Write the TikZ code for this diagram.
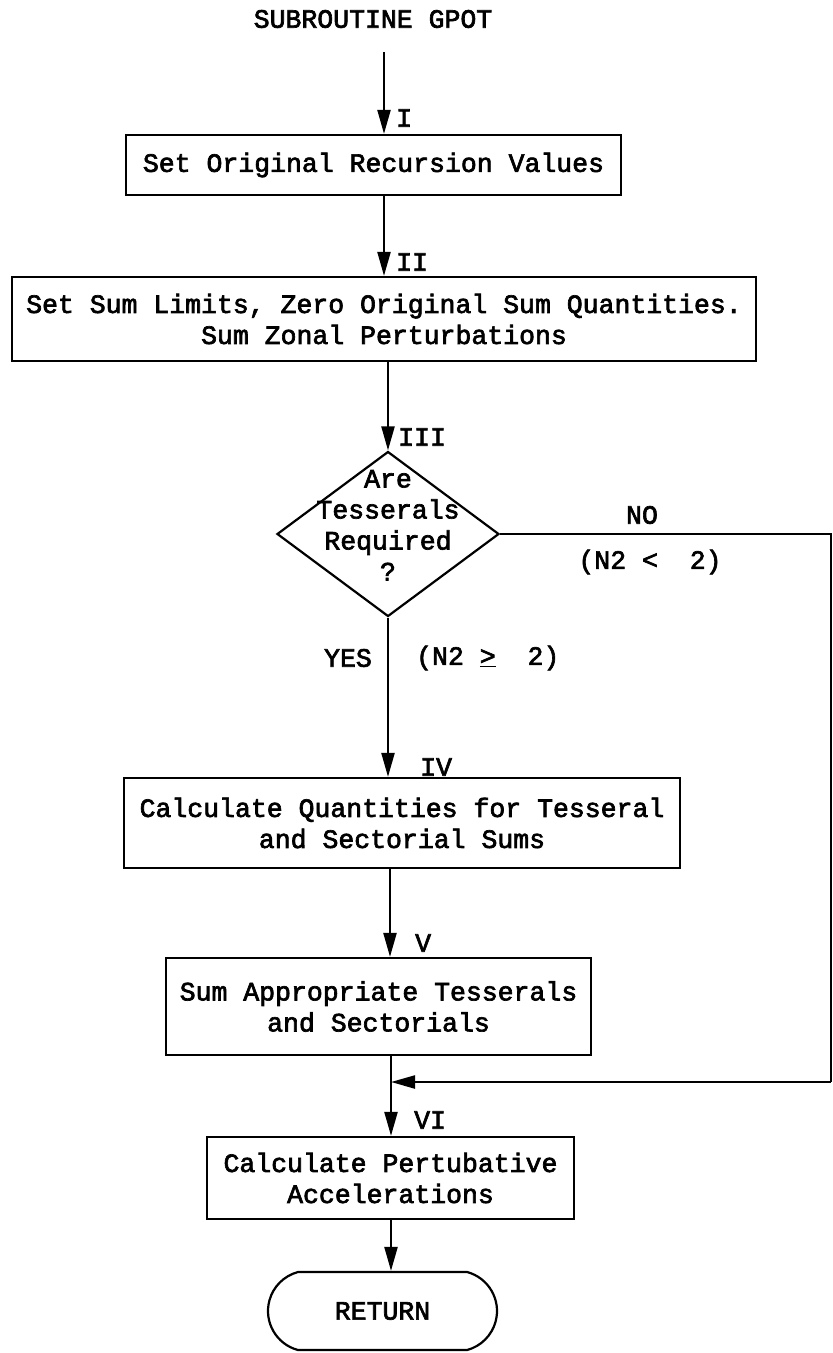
\documentclass[tikz,border=0pt]{standalone}
\usepackage{fontspec}
\newfontfamily\typer{Liberation Mono}[FakeBold=2.5]
\usetikzlibrary{arrows.meta,shapes.geometric,shapes.misc}
\tikzset{
  flow/.style={line width=2.2pt},
  arr/.style={flow, -{Triangle[length=24pt,width=13pt]}},
  txt/.style={font=\typer\fontsize{26.5}{31}\selectfont, inner sep=0pt},
  procbox/.style={txt, draw, line width=2.2pt, rectangle, align=center},
  tag/.style={txt, anchor=west},
}
\begin{document}
\begin{tikzpicture}[x=1pt,y=-1pt]
\useasboundingbox (0,0) rectangle (833,1353);

% flow columns
\coordinate (c1) at (384,0);
\coordinate (c3) at (390,0);
\coordinate (c4) at (391,0);
\coordinate (start) at (384,52);

% title
\node[txt] (title) at (373,19) {SUBROUTINE GPOT};

% blocks
\node[procbox, minimum width=495pt, minimum height=60pt] (b1) at (373.5,165)
  {Set Original Recursion Values};
\node[procbox, minimum width=744pt, minimum height=84pt] (b2) at (384,319)
  {Set Sum Limits, Zero Original Sum Quantities.\\Sum Zonal Perturbations};
\node[draw, line width=2.2pt, diamond, minimum width=222pt, minimum height=165pt,
      inner sep=0pt] (dia) at (388,534)
  {\raisebox{0pt}[0pt][0pt]{\makebox[0pt]{\typer\fontsize{26.5}{31}\selectfont
   \begin{tabular}{@{}c@{}}Are\\Tesserals\\Required\\?\end{tabular}}}};
\node[procbox, minimum width=556pt, minimum height=90pt] (b4) at (402,823)
  {Calculate Quantities for Tesseral\\and Sectorial Sums};
\node[procbox, minimum width=425pt, minimum height=97pt] (b5) at (378.5,1006.5)
  {Sum Appropriate Tesserals\\and Sectorials};
\node[procbox, minimum width=367pt, minimum height=82pt] (b6) at (390.5,1178)
  {Calculate Pertubative\\Accelerations};
\node[txt, draw, line width=2.2pt, rounded rectangle, rounded rectangle arc length=150,
      minimum width=229pt, minimum height=78pt] (ret) at (382.5,1311) {RETURN};

% connectors
\draw[arr] (start) -- (b1.north -| start);
\draw[arr] (b1.south -| c1) -- (b2.north -| c1);
\draw[arr] (b2.south -| dia.north) -- (dia.north);
\draw[arr] (dia.south) -- (b4.north -| dia.south);
\draw[arr] (b4.south -| c3) -- (b5.north -| c3);
\draw[arr] (b5.south -| c4) -- (b6.north -| c4);
\draw[arr] (b6.south -| c4) -- (ret.north -| c4);
\coordinate (back) at (831,1082);
\draw[flow] (dia.east) -| (back);
\draw[arr] (back) -- (back -| c4);

% branch tags
\node[tag] (tI) at (396,118) {I};
\node[tag] (tII) at (396,262) {II};
\node[tag] (tIII) at (398,437) {III};
\node[tag] (tIV) at (420,767) {IV};
\node[tag] (tV) at (415,943) {V};
\node[tag] (tVI) at (414,1120) {VI};

\node[txt] (no) at (642,515) {NO};
\node[txt] (nocond) at (650,562) {(N2 <\ \ 2)};
\node[txt, anchor=east] (yes) at (372,658) {YES};
\node[txt, anchor=west] (yescond) at (416,658) {(N2 \underline{>}\ \ 2)};
\end{tikzpicture}
\end{document}
